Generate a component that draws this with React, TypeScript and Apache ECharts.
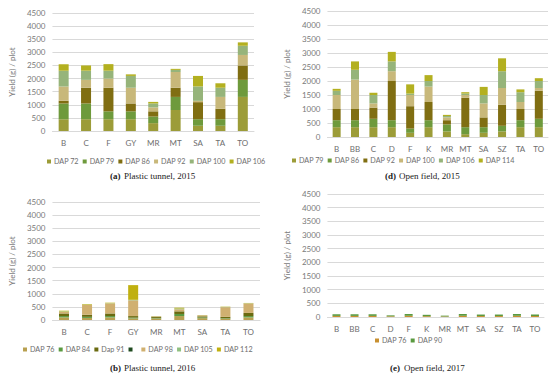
import React, { useEffect, useRef } from "react";
import * as echarts from "echarts";

// ---------- (a) Plastic tunnel, 2015 ----------
const catsA = ["B", "C", "F", "GY", "MR", "MT", "SA", "TA", "TO"];
const namesA = ["DAP 72", "DAP 79", "DAP 86", "DAP 92", "DAP 100", "DAP 106"];
const a72 = [450, 450, 450, 450, 300, 800, 200, 200, 1300];
const a79 = [600, 600, 300, 300, 250, 500, 250, 250, 650];
const a86 = [100, 600, 900, 300, 200, 350, 650, 400, 550];
const a92 = [550, 300, 350, 600, 150, 600, 50, 450, 400];
const a100 = [600, 350, 300, 450, 150, 80, 550, 350, 350];
const a106 = [250, 200, 250, 60, 60, 40, 400, 170, 130];

// ---------- (d) Open field, 2015 ----------
const catsD = ["B", "BB", "C", "D", "F", "K", "MR", "MT", "SA", "SZ", "TA", "TO"];
const namesD = ["DAP 79", "DAP 86", "DAP 92", "DAP 100", "DAP 106", "DAP 114"];
const d79 = [350, 350, 350, 350, 150, 350, 200, 100, 150, 200, 350, 350];
const d86 = [250, 250, 300, 250, 150, 250, 250, 250, 200, 200, 250, 300];
const d92 = [400, 400, 400, 1400, 800, 650, 150, 1050, 350, 750, 400, 1000];
const d100 = [500, 1050, 150, 350, 400, 550, 100, 100, 500, 600, 250, 100];
const d106 = [150, 350, 300, 350, 50, 200, 50, 50, 300, 600, 350, 250];
const d114 = [70, 300, 80, 340, 330, 210, 40, 50, 290, 460, 100, 100];

// ---------- (b) Plastic tunnel, 2016 ----------
const catsB = ["B", "C", "F", "GY", "MR", "MT", "SA", "TA", "TO"];
const namesB = ["DAP 76", "DAP 84", "Dap 91", " ", "DAP 98", "DAP 105", "DAP 112"];
const b76 = [100, 80, 100, 60, 60, 150, 70, 50, 100];
const b84 = [50, 40, 50, 30, 20, 80, 30, 20, 50];
const b91 = [100, 80, 100, 60, 40, 100, 40, 50, 120];
const bBlank = [0, 0, 0, 0, 0, 0, 0, 0, 0];
const b98 = [60, 380, 380, 600, 20, 80, 40, 370, 360];
const b105 = [20, 10, 10, 20, 5, 30, 5, 10, 10];
const b112 = [25, 20, 20, 560, 5, 30, 5, 10, 10];

// ---------- (e) Open field, 2017 ----------
const catsE = ["B", "BB", "C", "D", "F", "K", "MR", "MT", "SA", "SZ", "TA", "TO"];
const namesE = ["DAP 76", "DAP 90"];
const e76 = [40, 40, 40, 25, 45, 30, 20, 45, 35, 35, 45, 35];
const e90 = [60, 60, 60, 35, 65, 50, 30, 65, 55, 55, 65, 55];

const yTicks = [0, 500, 1000, 1500, 2000, 2500, 3000, 3500, 4000, 4500];

type Panel = {
  cats: string[];
  names: string[];
  values: number[][];
  colors: string[];
  grid: { left: number; right: number; top: number; bottom: number };
  barWidth: number;
  legendLeft: number;
  legendTop: number;
  titleLeft: number;
  titleTop: number;
  tag: string;
  caption: string;
};

const panels: Panel[] = [
  {
    cats: catsA,
    names: namesA,
    values: [a72, a79, a86, a92, a100, a106],
    colors: ["#9c9c38", "#6e9a3c", "#806e12", "#c8b87a", "#96b47a", "#b3b020"],
    grid: { left: 41, right: 21, top: 13, bottom: 57 },
    barWidth: 10,
    legendLeft: 47,
    legendTop: 158,
    titleLeft: 110,
    titleTop: 171,
    tag: "(a)",
    caption: "Plastic tunnel, 2015",
  },
  {
    cats: catsD,
    names: namesD,
    values: [d79, d86, d92, d100, d106, d114],
    colors: ["#9c9c38", "#6e9a3c", "#806e12", "#c8b87a", "#96b47a", "#b3b020"],
    grid: { left: 39, right: 2, top: 11, bottom: 51 },
    barWidth: 8,
    legendLeft: 17,
    legendTop: 157,
    titleLeft: 110,
    titleTop: 171,
    tag: "(d)",
    caption: "Open field, 2015",
  },
  {
    cats: catsB,
    names: namesB,
    values: [b76, b84, b91, bBlank, b98, b105, b112],
    colors: ["#b8a050", "#5a9a40", "#6a6a10", "#1f4a1f", "#d0b070", "#90c080", "#c0b010"],
    grid: { left: 44, right: 15, top: 14, bottom: 56 },
    barWidth: 10,
    legendLeft: 23,
    legendTop: 158,
    titleLeft: 110,
    titleTop: 175,
    tag: "(b)",
    caption: "Plastic tunnel, 2016",
  },
  {
    cats: catsE,
    names: namesE,
    values: [e76, e90],
    colors: ["#c89030", "#5a9a40"],
    grid: { left: 40, right: 6, top: 6, bottom: 59 },
    barWidth: 8,
    legendLeft: 100,
    legendTop: 149,
    titleLeft: 115,
    titleTop: 175,
    tag: "(e)",
    caption: "Open field, 2017",
  },
];

const FONT = "Lato";
const SERIF = "Liberation Serif";

function buildOption(p: Panel): any {
  return {
    animation: false,
    backgroundColor: "#ffffff",
    grid: p.grid,
    graphic: [
      {
        type: "group",
        left: p.titleLeft,
        top: p.titleTop,
        children: [
          {
            type: "text",
            x: 0,
            y: 0,
            style: {
              text: p.tag,
              font: "bold 9px '" + SERIF + "'",
              fill: "#222",
            },
          },
          {
            type: "text",
            x: 14,
            y: 0,
            style: {
              text: p.caption,
              font: "9px '" + SERIF + "'",
              fill: "#222",
            },
          },
        ],
      },
    ],
    legend: {
      data: p.names,
      left: p.legendLeft,
      top: p.legendTop,
      width: 262,
      itemWidth: 4,
      itemHeight: 4,
      itemGap: 4,
      icon: "rect",
      padding: 0,
      textStyle: { fontSize: 7.2, color: "#6e6e6e", fontFamily: FONT, padding: [0, 0, 0, -2] },
    },
    xAxis: {
      type: "category",
      data: p.cats,
      axisLine: { lineStyle: { color: "#d9d9d9" } },
      axisTick: { show: false },
      axisLabel: { fontSize: 8, color: "#6e6e6e", fontFamily: FONT, margin: 8 },
    },
    yAxis: {
      type: "value",
      min: 0,
      max: yTicks[yTicks.length - 1],
      interval: yTicks[1] - yTicks[0],
      name: "Yield (g) / plot",
      nameLocation: "middle",
      nameGap: 27,
      nameTextStyle: { fontSize: 8, color: "#7a7a7a", fontFamily: FONT },
      axisLine: { show: false },
      axisTick: { show: false },
      splitLine: { lineStyle: { color: "#d9d9d9", width: 1 } },
      axisLabel: {
        fontSize: 8,
        color: "#7a7a7a",
        fontFamily: FONT,
        margin: 7,
        formatter: (v: number) => String(v),
      },
    },
    series: p.names.map((n, i) => ({
      name: n,
      type: "bar",
      stack: "total",
      barWidth: p.barWidth,
      data: p.values[i],
      itemStyle: { color: p.colors[i] },
    })),
  };
}

function ChartBox({ panel, left, top }: { panel: Panel; left: number; top: number }) {
  const ref = useRef<HTMLDivElement>(null);
  useEffect(() => {
    if (!ref.current) return;
    const chart = echarts.init(ref.current, undefined, { renderer: "svg" });
    chart.setOption(buildOption(panel));
    return () => chart.dispose();
  }, [panel]);
  return (
    <div
      ref={ref}
      style={{ position: "absolute", left, top, width: 275, height: 188 }}
    />
  );
}

export default function App() {
  return (
    <div style={{ position: "absolute", left: 0, top: 0, width: 550, height: 376, background: "#fff" }}>
      <ChartBox panel={panels[0]} left={0} top={0} />
      <ChartBox panel={panels[1]} left={275} top={0} />
      <ChartBox panel={panels[2]} left={0} top={188} />
      <ChartBox panel={panels[3]} left={275} top={188} />
    </div>
  );
}
